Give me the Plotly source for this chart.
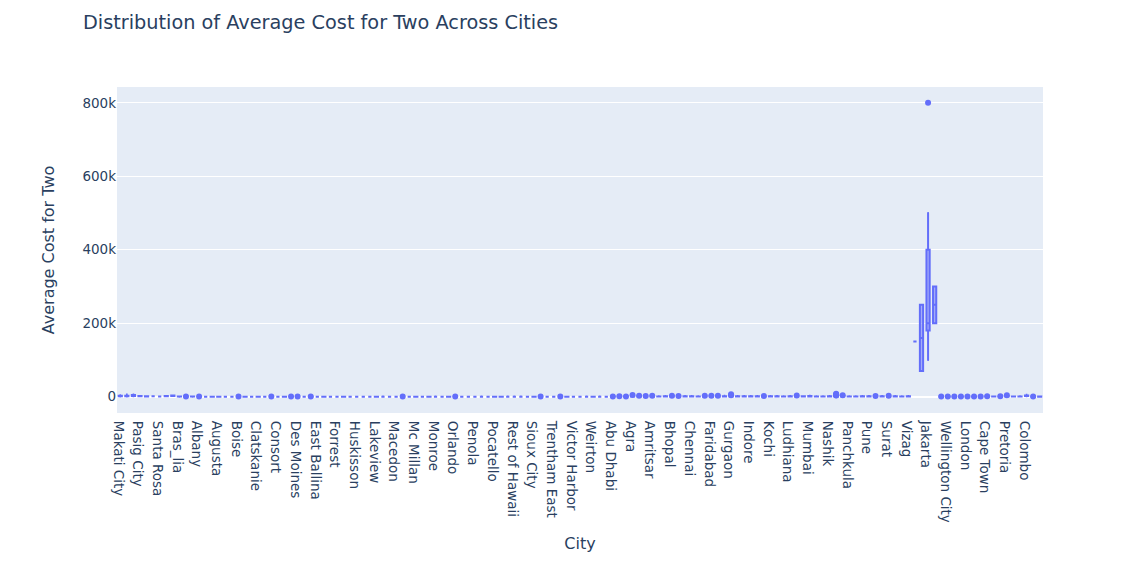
import plotly.graph_objects as go

cities = [
    "Makati City", "Mandaluyong City", "Pasay City", "Pasig City", "Quezon City",
    "San Juan City", "Santa Rosa", "Tagaytay City", "Taguig City",
    "Bras_lia", "Rio de Janeiro", "S_o Paulo",
    "Albany", "Armidale", "Athens", "Augusta", "Balingup", "Beechworth", "Boise",
    "Cedar Rapids/Iowa City", "Chatham-Kent", "Clatskanie", "Cochrane", "Columbus",
    "Consort", "Dalton", "Davenport", "Des Moines", "Dicky Beach", "Dubuque",
    "East Ballina", "Fernley", "Flaxton", "Forrest", "Gainesville", "Hepburn Springs",
    "Huskisson", "Inverloch", "Lakes Entrance", "Lakeview", "Lincoln", "Lorn",
    "Macedon", "Macon", "Mayfield", "Mc Millan", "Middleton Beach", "Miller",
    "Monroe", "Montville", "Ojo Caliente", "Orlando", "Palm Cove", "Paynesville",
    "Penola", "Pensacola", "Phillip Island", "Pocatello", "Potrero", "Princeton",
    "Rest of Hawaii", "Savannah", "Singapore", "Sioux City", "Tampa Bay", "Tanunda",
    "Trentham East", "Valdosta", "Vernonia", "Victor Harbor", "Vineland Station",
    "Waterloo", "Weirton", "Winchester Bay", "Yorkton",
    "Abu Dhabi", "Dubai", "Sharjah",
    "Agra", "Ahmedabad", "Allahabad", "Amritsar", "Aurangabad", "Bangalore", "Bhopal",
    "Bhubaneshwar", "Chandigarh", "Chennai", "Coimbatore", "Dehradun", "Faridabad",
    "Ghaziabad", "Goa", "Gurgaon", "Guwahati", "Hyderabad", "Indore", "Jaipur",
    "Kanpur", "Kochi", "Kolkata", "Lucknow", "Ludhiana", "Mangalore", "Mohali",
    "Mumbai", "Mysore", "Nagpur", "Nashik", "New Delhi", "Noida", "Panchkula",
    "Patna", "Puducherry", "Pune", "Ranchi", "Secunderabad", "Surat", "Vadodara",
    "Varanasi", "Vizag",
    "Bandung", "Bogor", "Jakarta", "Tangerang",
    "Auckland", "Wellington City",
    "Birmingham", "Edinburgh", "London", "Manchester",
    "Doha",
    "Cape Town", "Inner City", "Johannesburg", "Pretoria", "Randburg", "Sandton",
    "Colombo",
    "Ankara", "_stanbul",
]

# Box statistics per city (same order as cities)
lower_fence = [
    600, 700, 1000, 800, 600, 800, 600, 1000, 1500,
    70, 50, 60,
    10, 40, 10, 10, 30, 40, 10, 10, 25, 10, 30, 10, 40, 10, 10, 10, 40, 10,
    40, 10, 40, 40, 10, 50, 40, 40, 40, 10, 10, 40, 40, 10, 40, 10, 40, 10,
    10, 40, 10, 10, 50, 40, 40, 10, 40, 10, 10, 10, 10, 10, 40, 10, 10, 40,
    40, 10, 10, 40, 40, 10, 10, 10, 40,
    50, 50, 50,
    150, 150, 150, 150, 150, 200, 150, 150, 200, 150, 150, 150, 150,
    150, 200, 150, 150, 200, 150, 150, 150, 200, 150, 150, 150, 150, 150,
    200, 150, 150, 150, 150, 150, 150, 150, 150, 150, 150, 200, 150, 150,
    150, 150,
    150000, 70000, 100000, 200000,
    30, 30,
    20, 20, 20, 20,
    100,
    150, 150, 150, 150, 150, 150,
    800,
    40, 40,
]
q1 = [
    1100, 1200, 2000, 800, 700, 800, 600, 1000, 1500,
    100, 100, 120,
    25, 40, 20, 20, 30, 40, 25, 20, 25, 20, 30, 25, 40, 20, 25, 25, 40, 20,
    40, 20, 40, 40, 20, 50, 40, 40, 40, 20, 25, 40, 40, 25, 40, 20, 40, 20,
    25, 40, 20, 25, 50, 40, 40, 25, 40, 20, 20, 25, 25, 25, 40, 20, 25, 40,
    40, 25, 20, 40, 40, 25, 20, 25, 40,
    100, 100, 80,
    400, 400, 350, 400, 350, 500, 400, 350, 500, 400, 350, 350, 350,
    400, 600, 500, 400, 500, 400, 400, 350, 500, 400, 350, 400, 350, 350,
    600, 350, 350, 400, 400, 400, 350, 350, 400, 500, 350, 500, 350, 400,
    350, 400,
    150000, 70000, 180000, 200000,
    50, 50,
    30, 30, 40, 30,
    150,
    250, 250, 250, 250, 250, 300,
    1500,
    60, 60,
]
median = [
    1500, 1600, 3000, 1100, 900, 800, 600, 1200, 2000,
    150, 150, 180,
    40, 40, 30, 30, 30, 40, 40, 30, 25, 30, 30, 40, 40, 30, 40, 40, 40, 30,
    40, 30, 40, 40, 30, 50, 40, 40, 40, 30, 40, 40, 40, 40, 40, 30, 40, 30,
    40, 40, 30, 40, 50, 40, 40, 40, 40, 30, 30, 40, 40, 40, 40, 30, 40, 40,
    40, 40, 30, 40, 40, 40, 30, 40, 40,
    150, 150, 120,
    600, 600, 500, 600, 500, 800, 600, 500, 700, 600, 500, 500, 500,
    600, 900, 700, 600, 800, 600, 600, 500, 700, 600, 500, 600, 500, 500,
    900, 500, 500, 600, 600, 600, 500, 500, 600, 700, 500, 700, 500, 600,
    500, 600,
    150000, 160000, 200000, 250000,
    70, 70,
    45, 45, 60, 45,
    200,
    350, 350, 350, 350, 350, 400,
    2000,
    80, 80,
]
q3 = [
    2400, 2800, 4500, 1500, 1200, 800, 600, 1500, 3000,
    200, 250, 250,
    45, 40, 45, 45, 30, 40, 50, 45, 25, 45, 30, 50, 40, 45, 50, 50, 40, 45,
    40, 45, 40, 40, 45, 50, 40, 40, 40, 45, 50, 40, 40, 50, 40, 45, 40, 45,
    50, 40, 45, 50, 50, 40, 40, 50, 40, 45, 45, 50, 50, 50, 40, 45, 50, 40,
    40, 50, 45, 40, 40, 50, 45, 50, 40,
    200, 250, 170,
    900, 900, 700, 900, 700, 1200, 900, 700, 1000, 900, 700, 700, 800,
    900, 1400, 1000, 900, 1200, 900, 900, 700, 1000, 900, 700, 900, 700, 800,
    1500, 700, 700, 900, 900, 900, 700, 700, 900, 1000, 700, 1000, 700, 900,
    700, 900,
    150000, 250000, 400000, 300000,
    90, 90,
    60, 60, 80, 60,
    250,
    450, 450, 450, 450, 450, 500,
    3000,
    100, 100,
]
upper_fence = [
    4000, 6000, 6000, 1500, 1200, 800, 600, 1500, 3000,
    300, 400, 400,
    70, 40, 70, 70, 30, 40, 80, 70, 25, 70, 30, 80, 40, 70, 80, 80, 40, 70,
    40, 70, 40, 40, 70, 50, 40, 40, 40, 70, 80, 40, 40, 80, 40, 70, 40, 70,
    80, 40, 70, 80, 50, 40, 40, 80, 40, 70, 70, 80, 80, 80, 40, 70, 80, 40,
    40, 80, 70, 40, 40, 80, 70, 80, 40,
    350, 400, 300,
    1500, 1500, 1200, 1500, 1200, 2000, 1500, 1200, 1600, 1500, 1200, 1200, 1400,
    1500, 2500, 1800, 1500, 2000, 1500, 1500, 1200, 1800, 1500, 1200, 1500, 1200, 1400,
    2500, 1200, 1200, 1500, 1500, 1500, 1200, 1200, 1500, 1800, 1200, 1800, 1200, 1500,
    1200, 1500,
    150000, 250000, 500000, 300000,
    150, 150,
    100, 100, 120, 100,
    400,
    700, 700, 700, 700, 700, 800,
    5000,
    160, 160,
]

# Outlier points
outlier_city = [
    "Rio de Janeiro", "Albany", "Boise", "Columbus", "Davenport", "Des Moines",
    "Dubuque", "Macon", "Orlando", "Tampa Bay", "Valdosta",
    "Abu Dhabi", "Dubai", "Sharjah", "Agra", "Ahmedabad", "Allahabad", "Amritsar",
    "Bhopal", "Bhubaneshwar", "Dehradun", "Faridabad", "Ghaziabad",
    "Gurgaon", "Gurgaon", "Kanpur", "Mangalore",
    "New Delhi", "New Delhi", "New Delhi", "New Delhi", "New Delhi",
    "Noida", "Ranchi", "Surat",
    "Jakarta",
    "Auckland", "Wellington City", "Birmingham", "Edinburgh", "London",
    "Manchester", "Doha", "Cape Town", "Johannesburg", "Pretoria", "Ankara",
]
outlier_cost = [
    600, 100, 150, 150, 120, 150,
    120, 150, 150, 150, 120,
    600, 800, 500, 4500, 2500, 2000, 2500,
    2500, 2000, 2500, 2800, 2500,
    3500, 6500, 2000, 3000,
    3000, 4000, 5000, 6000, 8000,
    3500, 2000, 2500,
    800000,
    250, 250, 150, 150, 200,
    150, 600, 1200, 1200, 3500, 300,
]

color = "#636efa"

fig = go.Figure()
fig.add_trace(go.Box(
    x=cities,
    q1=q1,
    median=median,
    q3=q3,
    lowerfence=lower_fence,
    upperfence=upper_fence,
    marker_color=color,
    line_color=color,
    name="",
    showlegend=False,
))
fig.add_trace(go.Scatter(
    x=outlier_city,
    y=outlier_cost,
    mode="markers",
    marker=dict(color=color, size=6),
    name="",
    showlegend=False,
))

fig.update_layout(
    template="plotly",
    font=dict(family="DejaVu Sans", size=13.5),
    title=dict(text="Distribution of Average Cost for Two Across Cities",
               font=dict(size=19.3),
               x=0.0676, xanchor="left", y=0.975, yanchor="middle"),
    margin=dict(l=109, r=74, t=79, b=150),
    showlegend=False,
)
fig.update_xaxes(
    title_text="City",
    title_font_size=16,
    categoryorder="array",
    categoryarray=cities,
    range=[-0.5, len(cities) - 0.5],
    tickmode="array",
    tickvals=cities[::3],
)
fig.update_yaxes(
    title_text="Average Cost for Two",
    title_font_size=16,
    title_standoff=23,
    range=[-44500, 843000],
    dtick=200000,
)

fig.write_html("out.html")
